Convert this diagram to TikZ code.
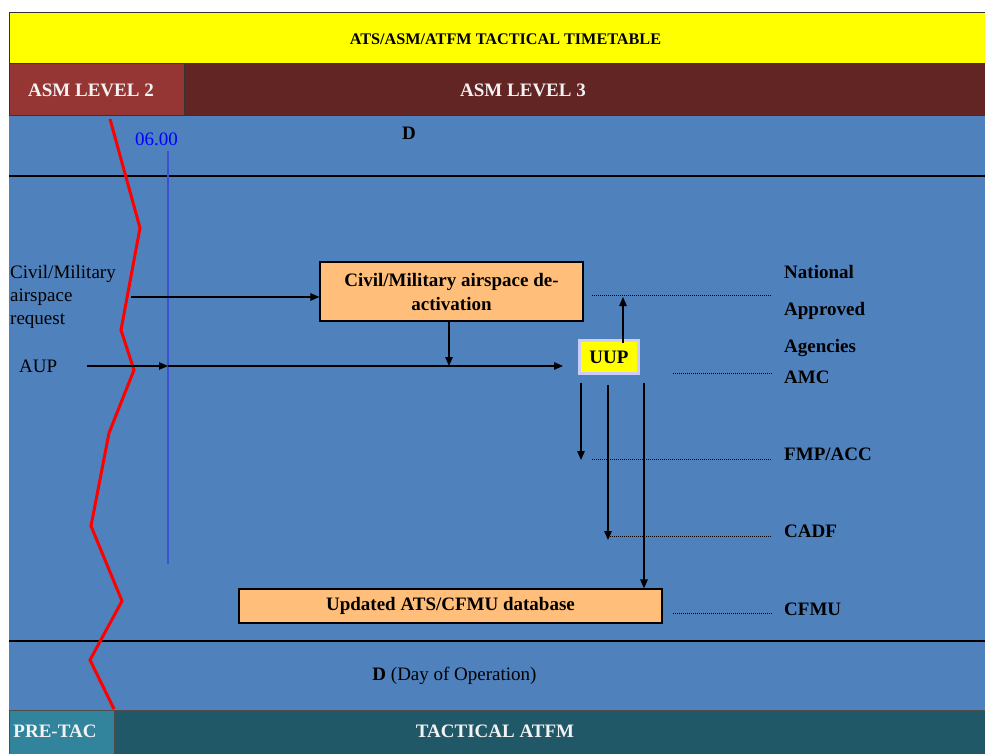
\documentclass[tikz,border=0pt]{standalone}
\usepackage{fontspec}
\setmainfont{Liberation Serif}
\usetikzlibrary{arrows.meta}
\definecolor{ttlyellow}{HTML}{FFFF00}
\definecolor{lvltwo}{HTML}{963634}
\definecolor{lvlthree}{HTML}{632523}
\definecolor{skyblue}{HTML}{4F81BD}
\definecolor{boxorange}{HTML}{FFBF7A}
\definecolor{pretac}{HTML}{31849B}
\definecolor{tactical}{HTML}{215868}
\definecolor{lavender}{HTML}{CCCCFF}
\definecolor{timeblue}{HTML}{3F4FD0}
\definecolor{bandtext}{HTML}{F2F2F2}
\tikzset{
  txt/.style={anchor=base,inner sep=0pt,font=\fontsize{19}{23}\selectfont},
  btxt/.style={txt,font=\fontsize{19}{23}\selectfont\bfseries},
  ltxt/.style={txt,anchor=base west},
  lbtxt/.style={btxt,anchor=base west},
  procbox/.style={draw=black,line width=1.2pt,fill=boxorange,align=center,inner sep=0pt,
    font=\fontsize{19}{24}\selectfont\bfseries},
  arr/.style={line width=1.2pt,-{Triangle[length=9pt,width=7.5pt]}},
  dots/.style={line width=0.9pt,dash pattern=on 1pt off 1pt},
  heavy/.style={line width=2.6pt,black},
}
\begin{document}
\begin{tikzpicture}[x=1pt,y=-1pt]
\useasboundingbox (0,0) rectangle (985,754);
% bands
\fill[white] (0,0) rectangle (985,754);
\fill[skyblue] (9,116) rectangle (985,710);
\draw[fill=ttlyellow,draw=black!80,line width=1pt] (9,13) rectangle (986,64);
\draw[fill=lvltwo,draw=black!80,line width=1pt] (9,64) rectangle (184,116);
\draw[fill=lvlthree,draw=black!80,line width=1pt] (184,64) rectangle (986,116);
\draw[fill=pretac,draw=black!70,line width=0.8pt] (9,710) rectangle (114,755);
\draw[fill=tactical,draw=black!70,line width=0.8pt] (114,710) rectangle (986,755);
\draw[heavy] (9,176) -- (985,176);
\draw[heavy] (9,641) -- (985,641);
% band texts
\node[btxt,font=\fontsize{16.2}{19}\selectfont\bfseries] (title) at (505.5,45) {ATS/ASM/ATFM TACTICAL TIMETABLE};
\node[btxt,text=bandtext] (lvl2) at (91,97) {ASM LEVEL 2};
\node[btxt,text=bandtext] (lvl3) at (523,97) {ASM LEVEL 3};
\node[btxt] (dtop) at (409,140) {D};
\node[txt,text=blue] (six) at (156.5,146) {06.00};
\node[txt] (dop) at (454.5,680) {\textbf{D} (Day of Operation)};
\node[btxt,text=bandtext] (pretacl) at (55,737) {PRE-TAC};
\node[btxt,text=bandtext] (tacl) at (495,737) {TACTICAL ATFM};
% timeline and zigzag
\draw[timeblue,line width=1.2pt] (168,151) -- (168,564);
\draw[red,line width=3pt,line join=miter] (110,119) -- (140,228) -- (121,330) -- (134,370) -- (109,433) -- (91,526) -- (122,601) -- (90,660) -- (114,709);
% left texts
\node[ltxt] (req1) at (10,278) {Civil/Military};
\node[ltxt] (req2) at (10,301.5) {airspace};
\node[ltxt] (req3) at (10,324.5) {request};
\node[ltxt] (aup) at (19,372) {AUP};
% boxes
\node[procbox,minimum width=263pt,minimum height=59pt] (deact) at (451.5,291.5) {Civil/Military airspace de-\\activation};
\node[draw=lavender,line width=3pt,fill=ttlyellow,minimum width=59pt,minimum height=33pt,inner sep=0pt,
  font=\fontsize{19}{23}\selectfont\bfseries] (uup) at (609,357) {UUP};
\node[procbox,minimum width=423pt,minimum height=34pt] (updb) at (450.5,606) {Updated ATS/CFMU database};
% right labels
\node[lbtxt] (nat) at (784,278) {National};
\node[lbtxt] (appr) at (784,315) {Approved};
\node[lbtxt] (agen) at (784,352) {Agencies};
\node[lbtxt] (amc) at (784,383) {AMC};
\node[lbtxt] (fmp) at (784,460) {FMP/ACC};
\node[lbtxt] (cadf) at (784,537) {CADF};
\node[lbtxt] (cfmu) at (784,615) {CFMU};
% coordinates
\coordinate (reqs) at (131,297);
\coordinate (aups) at (87,366);
\coordinate (aupm) at (168,366);
\coordinate (aupe) at (563,366);
\coordinate (uupt) at (623,343);
\coordinate (uupa) at (623,297);
\coordinate (va) at (581,383);
\coordinate (vb) at (608,385);
\coordinate (vc) at (644,383);
\coordinate (d1a) at (592,295);
\coordinate (d1b) at (772,295);
\coordinate (d2a) at (673,373);
\coordinate (d2b) at (772,373);
\coordinate (d3a) at (592,459);
\coordinate (d3b) at (772,459);
\coordinate (d4a) at (610,536);
\coordinate (d4b) at (772,536);
\coordinate (d5a) at (673,613);
\coordinate (d5b) at (772,613);
% connectors
\draw[arr] (reqs) -- (reqs -| deact.west);
\draw[arr] (aups) -- (aupm);
\draw[arr] (aupm) -- (aupe);
\draw[arr] (deact.south -| 449,0) -- (449,366);
\draw[arr] (uupt) -- (uupa);
\draw[arr] (va) -- (581,460);
\draw[arr] (vb) -- (608,540);
\draw[arr] (vc) -- (vc |- updb.north);
\draw[dots] (d1a) -- (d1b);
\draw[dots] (d2a) -- (d2b);
\draw[dots] (d3a) -- (d3b);
\draw[dots] (d4a) -- (d4b);
\draw[dots] (d5a) -- (d5b);
\end{tikzpicture}
\end{document}
